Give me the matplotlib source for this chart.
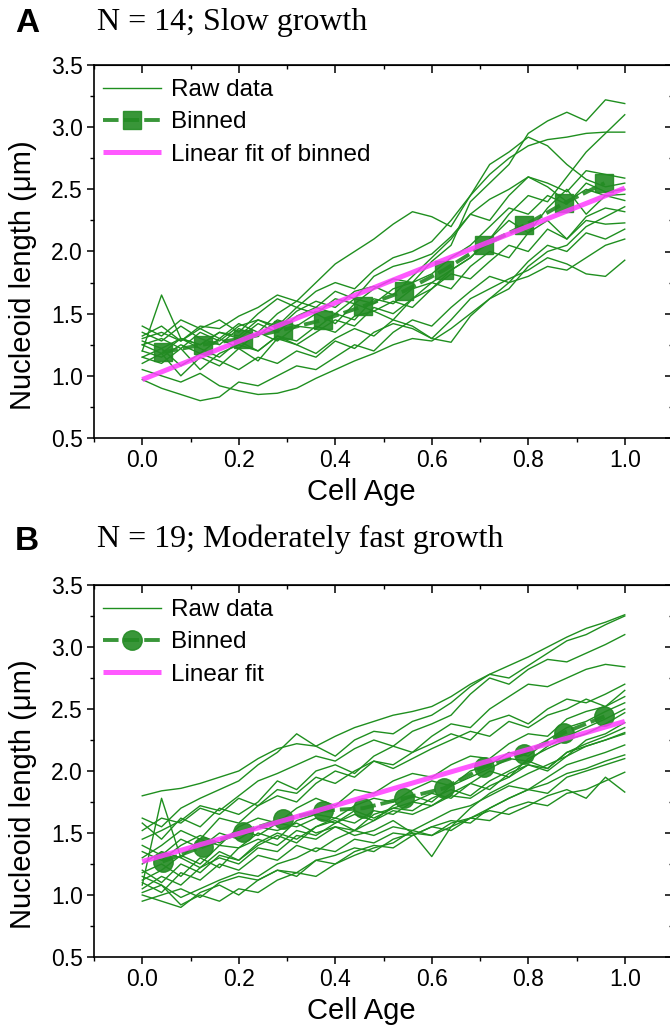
import matplotlib
matplotlib.use('Agg')
import matplotlib.pyplot as plt
from matplotlib.ticker import MultipleLocator

plt.rcParams['font.family'] = ['Liberation Sans', 'DejaVu Sans']

# common x grid of the raw traces (cell age)
cell_age = [0.00, 0.04, 0.08, 0.12, 0.16, 0.20, 0.24, 0.28, 0.32, 0.36, 0.40, 0.44, 0.48,
            0.52, 0.56, 0.60, 0.64, 0.68, 0.72, 0.76, 0.80, 0.84, 0.88, 0.92, 0.96, 1.00]

# panel A: N = 14, slow growth
raw_a = [
    [1.28, 1.22, 1.30, 1.25, 1.35, 1.32, 1.45, 1.40, 1.55, 1.50, 1.62, 1.58, 1.70, 1.78, 1.75, 1.92, 2.05, 2.40, 2.55, 2.70, 2.95, 3.05, 3.12, 3.05, 3.22, 3.19],
    [1.20, 1.15, 1.25, 1.18, 1.30, 1.22, 1.35, 1.28, 1.40, 1.38, 1.50, 1.45, 1.62, 1.58, 1.70, 1.75, 1.85, 1.95, 2.10, 2.30, 2.45, 2.40, 2.60, 2.80, 2.95, 3.10],
    [1.32, 1.40, 1.28, 1.38, 1.45, 1.35, 1.50, 1.62, 1.55, 1.68, 1.75, 1.70, 1.85, 1.95, 2.00, 2.08, 2.25, 2.45, 2.62, 2.75, 2.85, 2.90, 2.92, 2.95, 2.96, 2.96],
    [1.30, 1.35, 1.28, 1.40, 1.38, 1.48, 1.55, 1.65, 1.60, 1.75, 1.90, 2.00, 2.10, 2.22, 2.32, 2.28, 2.20, 2.45, 2.70, 2.80, 2.92, 2.85, 2.70, 2.58, 2.52, 2.55],
    [1.25, 1.30, 1.22, 1.35, 1.28, 1.40, 1.45, 1.38, 1.52, 1.60, 1.55, 1.68, 1.72, 1.65, 1.80, 1.95, 2.10, 2.30, 2.42, 2.50, 2.60, 2.55, 2.48, 2.65, 2.62, 2.59],
    [1.20, 1.65, 1.30, 1.25, 1.35, 1.30, 1.42, 1.35, 1.48, 1.55, 1.50, 1.62, 1.58, 1.70, 1.75, 1.82, 1.95, 2.05, 2.20, 2.35, 2.30, 2.45, 2.38, 2.55, 2.48, 2.50],
    [1.15, 1.10, 1.22, 1.05, 1.18, 1.25, 1.20, 1.32, 1.28, 1.40, 1.35, 1.48, 1.52, 1.45, 1.62, 1.70, 1.85, 1.95, 2.10, 2.25, 2.15, 2.35, 2.50, 2.30, 2.45, 2.41],
    [1.10, 1.18, 1.00, 1.15, 1.08, 1.22, 1.12, 1.30, 1.25, 1.35, 1.45, 1.40, 1.55, 1.50, 1.62, 1.75, 1.70, 1.88, 2.00, 1.95, 2.15, 2.25, 2.10, 2.28, 2.35, 2.32],
    [1.35, 1.28, 1.40, 1.30, 1.25, 1.38, 1.32, 1.45, 1.40, 1.50, 1.42, 1.58, 1.52, 1.60, 1.55, 1.70, 1.82, 1.78, 1.92, 2.05, 2.00, 2.18, 2.10, 2.25, 2.22, 2.23],
    [0.97, 0.90, 0.85, 0.80, 0.83, 0.95, 0.92, 1.00, 1.08, 1.05, 1.15, 1.25, 1.20, 1.35, 1.45, 1.40, 1.55, 1.68, 1.80, 1.75, 1.92, 2.05, 2.00, 2.15, 2.10, 2.18],
    [1.05, 1.00, 0.95, 1.02, 0.92, 0.88, 0.85, 0.86, 0.90, 0.98, 1.05, 1.12, 1.18, 1.25, 1.30, 1.28, 1.38, 1.50, 1.62, 1.75, 1.80, 1.88, 1.85, 1.95, 2.05, 2.10],
    [1.25, 1.18, 1.30, 1.22, 1.15, 1.28, 1.20, 1.32, 1.25, 1.18, 1.30, 1.38, 1.32, 1.45, 1.40, 1.30, 1.45, 1.62, 1.70, 1.78, 1.85, 1.95, 1.90, 1.82, 1.80, 1.93],
    [1.15, 1.22, 1.08, 1.18, 1.12, 1.05, 1.15, 1.10, 1.20, 1.15, 1.28, 1.22, 1.35, 1.42, 1.38, 1.30, 1.27, 1.48, 1.62, 1.70, 1.88, 2.00, 2.05, 2.20, 2.28, 2.36],
    [1.40, 1.32, 1.45, 1.38, 1.30, 1.42, 1.35, 1.50, 1.60, 1.55, 1.68, 1.62, 1.80, 1.88, 1.92, 1.98, 2.12, 2.30, 2.25, 2.45, 2.60, 2.52, 2.40, 2.50, 2.45, 2.46],
]
bin_x = [0.042, 0.125, 0.208, 0.292, 0.375, 0.458, 0.542, 0.625, 0.708, 0.792, 0.875, 0.958]
binned_a = [1.19, 1.25, 1.30, 1.37, 1.45, 1.56, 1.68, 1.85, 2.05, 2.21, 2.39, 2.55]
fit_x = [0.0, 1.0]
fit_a = [0.97, 2.51]

# panel B: N = 19, moderately fast growth
raw_b = [
    [1.80, 1.84, 1.86, 1.90, 1.95, 2.00, 2.10, 2.18, 2.22, 2.20, 2.28, 2.35, 2.40, 2.45, 2.48, 2.52, 2.60, 2.70, 2.78, 2.85, 2.92, 3.00, 3.08, 3.15, 3.20, 3.26],
    [1.62, 1.55, 1.70, 1.78, 1.85, 1.92, 2.05, 2.15, 2.30, 2.20, 2.12, 2.25, 2.32, 2.30, 2.40, 2.45, 2.55, 2.68, 2.78, 2.75, 2.85, 2.95, 3.05, 3.10, 3.18, 3.25],
    [1.45, 1.52, 1.60, 1.72, 1.68, 1.80, 1.92, 1.98, 2.05, 2.12, 2.08, 2.18, 2.25, 2.20, 2.32, 2.38, 2.45, 2.62, 2.75, 2.70, 2.82, 2.90, 2.88, 2.95, 3.02, 3.10],
    [1.58, 1.45, 1.62, 1.55, 1.70, 1.65, 1.75, 1.92, 1.85, 2.00, 2.05, 1.98, 2.12, 2.20, 2.15, 2.28, 2.38, 2.35, 2.50, 2.60, 2.70, 2.68, 2.75, 2.82, 2.86, 2.84],
    [1.30, 1.40, 1.52, 1.45, 1.62, 1.58, 1.72, 1.80, 1.75, 1.90, 2.00, 1.95, 2.08, 2.05, 2.15, 2.22, 2.30, 2.25, 2.40, 2.45, 2.38, 2.50, 2.58, 2.55, 2.62, 2.70],
    [1.52, 1.62, 1.58, 1.70, 1.65, 1.78, 1.72, 1.85, 1.82, 1.95, 1.90, 2.00, 2.08, 2.02, 2.10, 2.18, 2.25, 2.32, 2.28, 2.40, 2.35, 2.45, 2.50, 2.58, 2.52, 2.65],
    [1.25, 1.35, 1.30, 1.45, 1.40, 1.55, 1.62, 1.58, 1.70, 1.78, 1.72, 1.85, 1.82, 1.92, 1.98, 1.95, 2.05, 2.12, 2.10, 2.22, 2.30, 2.28, 2.42, 2.48, 2.52, 2.60],
    [1.12, 1.20, 1.32, 1.25, 1.40, 1.38, 1.50, 1.45, 1.60, 1.65, 1.62, 1.72, 1.78, 1.75, 1.85, 1.92, 1.88, 2.00, 2.05, 2.15, 2.12, 2.25, 2.35, 2.40, 2.48, 2.55],
    [1.20, 1.10, 1.25, 1.18, 1.32, 1.28, 1.42, 1.50, 1.45, 1.55, 1.62, 1.58, 1.68, 1.65, 1.75, 1.82, 1.78, 1.90, 2.00, 1.95, 2.10, 2.18, 2.25, 2.30, 2.38, 2.47],
    [1.05, 1.15, 1.08, 1.22, 1.30, 1.25, 1.38, 1.35, 1.48, 1.45, 1.55, 1.52, 1.60, 1.68, 1.65, 1.72, 1.80, 1.78, 1.88, 1.95, 2.05, 2.00, 2.12, 2.25, 2.30, 2.39],
    [1.35, 1.28, 1.40, 1.48, 1.42, 1.52, 1.48, 1.58, 1.55, 1.62, 1.58, 1.68, 1.62, 1.70, 1.75, 1.72, 1.82, 1.90, 1.85, 1.98, 2.05, 2.02, 2.15, 2.20, 2.25, 2.31],
    [1.10, 1.02, 1.18, 1.12, 1.25, 1.20, 1.32, 1.28, 1.40, 1.35, 1.45, 1.52, 1.48, 1.55, 1.52, 1.60, 1.68, 1.72, 1.80, 1.88, 1.85, 1.95, 2.05, 2.10, 2.15, 2.21],
    [1.02, 1.08, 0.98, 1.05, 1.12, 1.18, 1.15, 1.25, 1.30, 1.38, 1.35, 1.45, 1.42, 1.50, 1.48, 1.55, 1.60, 1.58, 1.70, 1.78, 1.85, 1.90, 1.98, 2.02, 2.08, 2.13],
    [0.95, 1.00, 1.05, 0.98, 1.10, 1.15, 1.12, 1.20, 1.18, 1.28, 1.32, 1.38, 1.35, 1.45, 1.50, 1.48, 1.58, 1.62, 1.60, 1.70, 1.75, 1.72, 1.82, 1.85, 1.92, 1.99],
    [1.15, 1.08, 0.92, 1.00, 0.95, 1.05, 1.02, 1.12, 1.18, 1.15, 1.25, 1.32, 1.38, 1.42, 1.52, 1.48, 1.55, 1.62, 1.68, 1.65, 1.72, 1.80, 1.85, 1.78, 1.95, 1.83],
    [1.40, 1.32, 1.45, 1.38, 1.50, 1.45, 1.55, 1.52, 1.58, 1.50, 1.55, 1.48, 1.52, 1.60, 1.50, 1.31, 1.55, 1.70, 1.82, 1.90, 1.98, 2.05, 2.12, 2.20, 2.25, 2.30],
    [1.18, 1.25, 1.15, 1.30, 1.22, 1.38, 1.45, 1.40, 1.52, 1.48, 1.58, 1.65, 1.60, 1.72, 1.80, 1.75, 1.88, 1.95, 2.02, 2.10, 2.08, 2.20, 2.28, 2.35, 2.42, 2.50],
    [1.08, 1.78, 1.30, 1.22, 1.35, 1.28, 1.40, 1.48, 1.42, 1.55, 1.60, 1.52, 1.65, 1.70, 1.68, 1.78, 1.85, 1.80, 1.92, 2.00, 2.08, 2.02, 2.15, 2.22, 2.28, 2.35],
    [1.00, 0.95, 0.90, 1.02, 1.08, 1.00, 1.12, 1.20, 1.15, 1.28, 1.25, 1.35, 1.40, 1.38, 1.48, 1.55, 1.52, 1.62, 1.70, 1.78, 1.85, 1.82, 1.95, 2.00, 2.05, 2.10],
]
binned_b = [1.27, 1.39, 1.51, 1.61, 1.68, 1.70, 1.78, 1.86, 2.03, 2.14, 2.31, 2.44]
fit_b = [1.27, 2.40]

GREEN = '#1f8f1f'
MAGENTA = '#ff3cff'

fig = plt.figure(figsize=(6.7, 10.25), dpi=100)


def draw_panel(ax, raw, binned, fit, marker, fit_label):
    for i, trace in enumerate(raw):
        ax.plot(cell_age, trace, color=GREEN, lw=1.0,
                label='Raw data' if i == 0 else '_nolegend_', zorder=2)
    ax.plot(bin_x, binned, color='#238b23', lw=2.8, ls=(0, (4, 1.3)), marker=marker,
            ms=13 if marker == 's' else 14, alpha=0.9, label='Binned', zorder=3)
    ax.plot(fit_x, fit, color=MAGENTA, lw=3.6, alpha=0.85, label=fit_label,
            solid_capstyle='butt', zorder=4)

    ax.set_xlim(-0.1, 1.1)
    ax.set_ylim(0.5, 3.5)
    ax.xaxis.set_major_locator(MultipleLocator(0.2))
    ax.xaxis.set_minor_locator(MultipleLocator(0.1))
    ax.yaxis.set_major_locator(MultipleLocator(0.5))
    ax.yaxis.set_minor_locator(MultipleLocator(0.25))
    ax.tick_params(which='major', direction='out', length=5, width=1.1, labelsize=16.5, pad=3)
    ax.tick_params(which='minor', direction='out', length=3, width=1.0)
    for s in ax.spines.values():
        s.set_linewidth(1.2)

    # inner ticks on top and right, like Origin
    top = ax.secondary_xaxis('top')
    top.xaxis.set_major_locator(MultipleLocator(0.2))
    top.xaxis.set_minor_locator(MultipleLocator(0.1))
    top.tick_params(which='major', direction='in', length=6, width=1.1, labeltop=False)
    top.tick_params(which='minor', direction='in', length=3, width=1.0)
    right = ax.secondary_yaxis('right')
    right.yaxis.set_major_locator(MultipleLocator(0.5))
    right.yaxis.set_minor_locator(MultipleLocator(0.25))
    right.tick_params(which='major', direction='in', length=6, width=1.1, labelright=False)
    right.tick_params(which='minor', direction='in', length=3, width=1.0)

    ax.set_xlabel('Cell Age', fontsize=21)
    ax.xaxis.set_label_coords(0.461, -0.108)
    ax.set_ylabel('Nucleoid length (μm)', fontsize=21)
    ax.yaxis.set_label_coords(-0.098, 0.437)

    ax.legend(loc='upper left', bbox_to_anchor=(0.015, 0.962), frameon=False, fontsize=17.5,
              borderpad=0, borderaxespad=0, handlelength=2.4, handletextpad=0.4,
              labelspacing=0.42)


ax_a = fig.add_axes([94 / 670, 1 - 438 / 1025, 579 / 670, 373 / 1025])
draw_panel(ax_a, raw_a, binned_a, fit_a, 's', 'Linear fit of binned')
ax_b = fig.add_axes([94 / 670, 1 - 957 / 1025, 579 / 670, 372 / 1025])
draw_panel(ax_b, raw_b, binned_b, fit_b, 'o', 'Linear fit')

fig.text(15 / 670, 1 - 32 / 1025, 'A', fontsize=24, fontweight='bold', va='baseline')
fig.text(97 / 670, 1 - 30 / 1025, 'N = 14; Slow growth', family='Liberation Serif',
         fontsize=23, va='baseline')
fig.text(15 / 670, 1 - 550 / 1025, 'B', fontsize=24, fontweight='bold', va='baseline')
fig.text(97 / 670, 1 - 547 / 1025, 'N = 19; Moderately fast growth', family='Liberation Serif',
         fontsize=23, va='baseline')

fig.savefig('out.png', dpi=100)
